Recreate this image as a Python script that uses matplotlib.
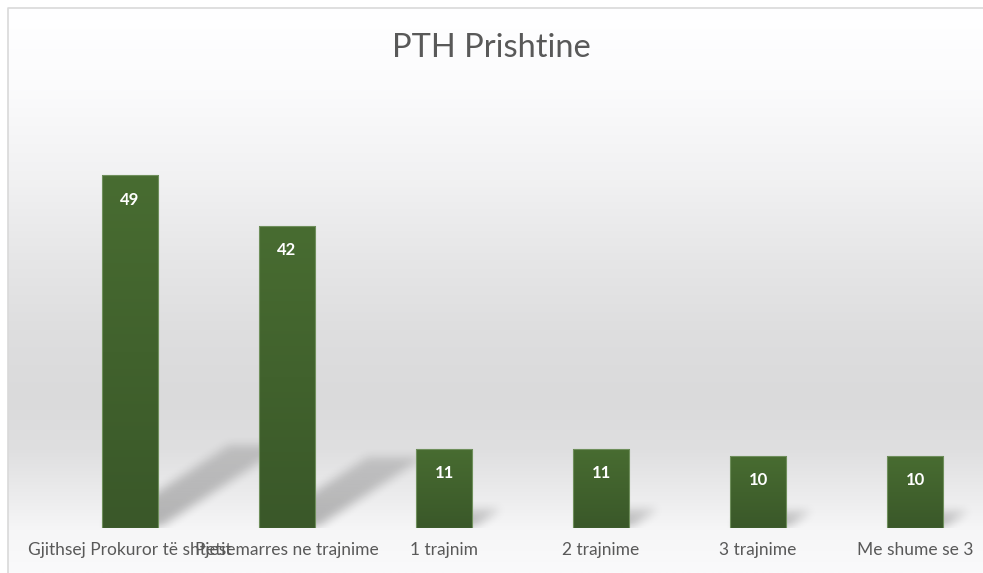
import numpy as np
import matplotlib
matplotlib.use("Agg")
import matplotlib.pyplot as plt
from matplotlib.path import Path
from matplotlib.colors import LinearSegmentedColormap

# data
categories = ["Gjithsej Prokuror të shtetit", "Pjesemarres ne trajnime",
              "1 trajnim", "2 trajnime", "3 trajnime", "Me shume se 3"]
values = [49, 42, 11, 11, 10, 10]
title = "PTH Prishtine"

plt.rcParams['font.family'] = ['Lato', 'DejaVu Sans']

W, H = 983, 573
fig = plt.figure(figsize=(W / 100, H / 100), dpi=100)
fig.patch.set_facecolor("white")

# chart area background gradient (white -> gray -> white)
bg = fig.add_axes([0, 0, 1, 1], zorder=-10)
bg.set_xlim(0, W)
bg.set_ylim(H, 0)
bg.axis("off")
stops_y = [8, 90, 180, 260, 330, 400, 450, 500, 530, 573]
stops_v = [255, 251, 241, 230, 222, 218, 223, 237, 246, 250]
yy = np.arange(8, H + 1)
col = np.interp(yy, stops_y, stops_v) / 255.0
grad = np.dstack([col, col, col + 0.004])[:, None, :].clip(0, 1)
grad = np.repeat(grad.reshape(len(yy), 1, 3), 2, axis=1)
bg.imshow(grad, extent=(8, W, H, 8), aspect="auto", interpolation="bilinear")
bg.plot([8, 8, W], [H, 8, 8], color="#d9d9d9", lw=1.2)

# plot area
left_px, right_px, top_px, bot_px = 51.5, 993.5, 96, 528
ax = fig.add_axes([left_px / W, 1 - bot_px / H, (right_px - left_px) / W,
                   (bot_px - top_px) / H])
ax.set_facecolor("none")
x = np.arange(len(values))
ax.set_xlim(-0.5, len(values) - 0.5)
ax.set_ylim(0, 60)
for s in ax.spines.values():
    s.set_visible(False)
ax.set_yticks([])
ax.set_xticks(x)
ax.set_xticklabels(categories, fontsize=12.5, color="#595959")
ax.tick_params(axis="x", length=0, pad=10)

bw = 0.36
px_x = (right_px - left_px) / len(values)
px_y = (bot_px - top_px) / 60

# perspective shadows, blurred
nx, ny = int(right_px - left_px), int(bot_px - top_px)
gx = np.linspace(-0.5, len(values) - 0.5, nx)
gy = np.linspace(60, 0, ny)
GX, GY = np.meshgrid(gx, gy)
pts = np.column_stack([GX.ravel(), GY.ravel()])
mask = np.zeros(GX.shape)
for xi, v in zip(x, values):
    dx = 0.36 * v * px_y / px_x
    dy = 0.235 * v
    poly = Path([(xi - bw / 2, 0), (xi + bw / 2, 0), (xi + bw / 2 + dx, dy),
                 (xi - bw / 2 + dx, dy), (xi - bw / 2, 0)])
    inside = poly.contains_points(pts).reshape(GX.shape)
    fade = 1 - 0.45 * np.clip(GY / dy, 0, 1)
    mask = np.maximum(mask, inside * fade)


def box_blur(a, k):
    kern = np.ones(k) / k
    a = np.apply_along_axis(lambda r: np.convolve(r, kern, mode="same"), 1, a)
    a = np.apply_along_axis(lambda c: np.convolve(c, kern, mode="same"), 0, a)
    return a


mask = box_blur(box_blur(mask, 11), 11)
shadow = np.zeros(GX.shape + (4,))
shadow[..., 3] = mask * 0.27
ax.imshow(shadow, extent=(-0.5, len(values) - 0.5, 0, 60), aspect="auto",
          zorder=1, interpolation="bilinear")

# bars with vertical green gradient
green = LinearSegmentedColormap.from_list("g", ["#3a5829", "#486c31"])
bars = ax.bar(x, values, width=bw, color="none", edgecolor="#6f8f5c",
              linewidth=0.8, zorder=3)
ramp = np.linspace(0, 1, 100).reshape(-1, 1)
for b in bars:
    im = ax.imshow(ramp, cmap=green, origin="lower", aspect="auto",
                   extent=(b.get_x(), b.get_x() + b.get_width(), 0, b.get_height()),
                   zorder=2)
    im.set_clip_path(b)
    ax.annotate(f"{b.get_height():.0f}", (b.get_x() + b.get_width() / 2, b.get_height()),
                xytext=(0, -17.5), textcoords="offset points", ha="center", va="center",
                color="white", fontsize=12, fontweight="bold", zorder=4)

ax.set_xlim(-0.5, len(values) - 0.5)
ax.set_ylim(0, 60)

fig.text(0.5, 1 - 48 / H, title, ha="center", va="center", fontsize=23.5, color="#595959")

fig.savefig("out.png", dpi=100)
